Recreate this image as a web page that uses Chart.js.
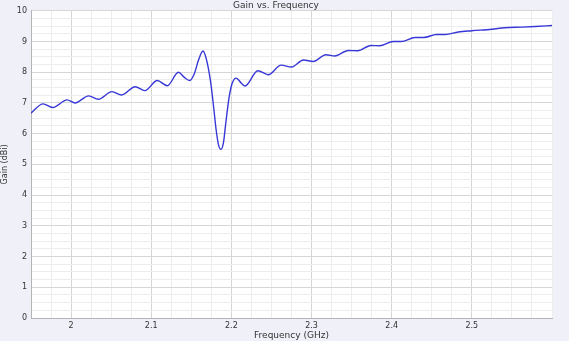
<!DOCTYPE html>
<html>
<head>
<meta charset="utf-8">
<script src="https://cdn.jsdelivr.net/npm/chart.js@4"></script>
<style>
  html, body { margin: 0; padding: 0; background: #eff0f8; }
  #wrap { width: 569px; height: 341px; }
</style>
</head>
<body>
<div id="wrap"><canvas id="gain"></canvas></div>
<script>
// frequency (GHz) and gain (dBi)
const freq = [1.950, 1.965, 1.977, 1.995, 2.005, 2.022, 2.034, 2.051, 2.063, 2.080,
    2.092, 2.1075, 2.120, 2.134, 2.141, 2.148, 2.154, 2.159, 2.1646, 2.169,
    2.174, 2.1775, 2.181, 2.184, 2.187, 2.190, 2.193, 2.197, 2.201, 2.206,
    2.2125, 2.217, 2.233, 2.246, 2.262, 2.275, 2.290, 2.302, 2.318, 2.329,
    2.346, 2.3575, 2.374, 2.385, 2.402, 2.412, 2.429, 2.440, 2.456, 2.467,
    2.483, 2.500, 2.525, 2.541, 2.5625, 2.579, 2.600];
const gain = [6.67, 6.97, 6.85, 7.10, 7.00, 7.23, 7.12, 7.37, 7.26, 7.53,
    7.40, 7.73, 7.56, 8.00, 7.84, 7.73, 7.97, 8.40, 8.69, 8.40,
    7.70, 6.95, 6.12, 5.63, 5.49, 5.69, 6.34, 7.16, 7.64, 7.81,
    7.64, 7.55, 8.05, 7.92, 8.23, 8.17, 8.40, 8.35, 8.57, 8.53,
    8.71, 8.70, 8.87, 8.86, 9.00, 9.00, 9.13, 9.13, 9.23, 9.23,
    9.31, 9.35, 9.40, 9.45, 9.47, 9.49, 9.52];
const xLabels = [2.0, 2.1, 2.2, 2.3, 2.4, 2.5];
const yLabels = [0, 1, 2, 3, 4, 5, 6, 7, 8, 9, 10];

const isOn = (v, list) => list.some(t => Math.abs(v - t) < 1e-6);
const txt = '#333';

const ctx = document.getElementById('gain').getContext('2d');
const chart = new Chart(ctx, {
    type: 'line',
    data: {
        datasets: [{
            label: 'Gain',
            data: freq.map((f, i) => ({ x: f, y: gain[i] })),
            borderColor: 'rgb(55, 55, 215)',
            borderWidth: 1.4,
            pointRadius: 0,
            fill: false,
            cubicInterpolationMode: 'monotone'
        }]
    },
    plugins: [{
        id: 'plotBg',
        beforeDraw(c) {
            const a = c.chartArea;
            c.ctx.save();
            c.ctx.fillStyle = '#ffffff';
            c.ctx.fillRect(a.left, a.top, a.right - a.left, a.bottom - a.top);
            c.ctx.restore();
        }
    }],
    options: {
        responsive: true,
        maintainAspectRatio: false,
        animation: false,
        layout: { padding: { left: 0, right: 17, top: 0, bottom: 0 } },
        plugins: {
            legend: { display: false },
            tooltip: { enabled: false },
            title: {
                display: true,
                text: 'Gain vs. Frequency',
                color: txt,
                font: { family: 'DejaVu Sans', size: 9, weight: 'normal', lineHeight: 1.2 },
                padding: { top: 0, bottom: 0 }
            }
        },
        scales: {
            x: {
                type: 'linear',
                min: 1.95,
                max: 2.6,
                afterFit(s) { s.height = 23; },
                border: { color: '#b4b4b4' },
                grid: {
                    drawTicks: false,
                    color: c => isOn(c.tick.value, xLabels) ? '#d6d6d6' : '#ededed'
                },
                ticks: {
                    stepSize: 0.025,
                    autoSkip: false,
                    maxRotation: 0,
                    padding: 3,
                    color: txt,
                    font: { family: 'DejaVu Sans', size: 8 },
                    callback: v => isOn(v, xLabels) ? String(Math.round(v * 10) / 10) : ''
                },
                title: {
                    display: true,
                    text: 'Frequency (GHz)',
                    color: txt,
                    font: { family: 'DejaVu Sans', size: 9 },
                    padding: 0
                }
            },
            y: {
                min: 0,
                max: 10,
                afterFit(s) { s.width = 31; },
                border: { color: '#b4b4b4' },
                grid: {
                    drawTicks: false,
                    color: c => isOn(c.tick.value, yLabels) ? '#d6d6d6' : '#ededed'
                },
                ticks: {
                    stepSize: 0.25,
                    autoSkip: false,
                    padding: 4,
                    color: txt,
                    font: { family: 'DejaVu Sans', size: 8 },
                    callback: v => isOn(v, yLabels) ? String(Math.round(v)) : ''
                },
                title: {
                    display: true,
                    text: 'Gain (dBi)',
                    color: txt,
                    font: { family: 'DejaVu Sans', size: 8 },
                    padding: 0
                }
            }
        }
    }
});
</script>
</body>
</html>
